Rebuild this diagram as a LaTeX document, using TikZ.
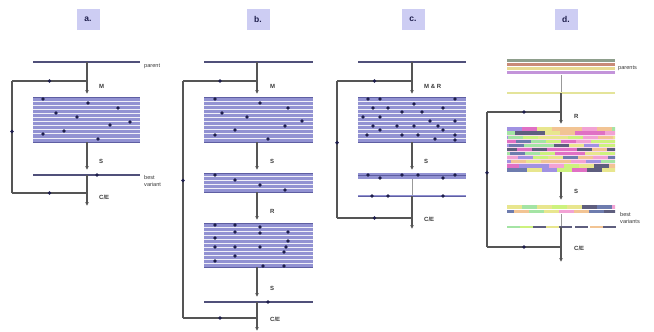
\documentclass[tikz,border=0pt]{standalone}
\usepackage{fontspec}
\setmainfont{Liberation Sans}
\usetikzlibrary{arrows.meta,decorations.markings}
\definecolor{lav}{HTML}{9292D2}
\definecolor{lavdark}{HTML}{5E5EA2}
\definecolor{lavlbl}{HTML}{CDCDF3}
\definecolor{pline}{HTML}{50507A}
\definecolor{dotc}{HTML}{1E1E4C}
\definecolor{flow}{HTML}{555555}
\definecolor{txt}{HTML}{3A3A3A}
\definecolor{mos1}{HTML}{F2A2D4}
\definecolor{mos2}{HTML}{A4E4A4}
\definecolor{mos3}{HTML}{E8E68E}
\definecolor{mos4}{HTML}{A092E2}
\definecolor{mos5}{HTML}{6E7CAE}
\definecolor{mos6}{HTML}{F2C494}
\definecolor{mos7}{HTML}{CDF27E}
\definecolor{mos8}{HTML}{E070C4}
\definecolor{mos9}{HTML}{5E5E7E}
\definecolor{par1}{HTML}{8E9E8C}
\definecolor{par2}{HTML}{C98A78}
\definecolor{par3}{HTML}{E8DA92}
\definecolor{par4}{HTML}{C394DA}
\definecolor{yel}{HTML}{E4E49A}
\tikzset{
  x=1pt,y=-1pt,
  flowarrow/.style={draw=flow,line width=1.2pt,-{Latex[length=3.8pt,width=3.8pt]}},
  flowline/.style={draw=flow,line width=1.2pt},
  thinlink/.style={draw=flow!60,line width=0.8pt},
  middot/.style={decoration={markings,mark=at position #1 with {\fill[dotc] (0,0) circle (1.9pt);}},postaction={decorate}},
  parentline/.style={draw=pline,line width=2.2pt},
  panellabel/.style={fill=lavlbl,text=dotc,font=\bfseries\fontsize{8.5}{9}\selectfont,minimum width=23pt,minimum height=21pt,inner sep=0pt},
  steplabel/.style={text=txt,font=\bfseries\fontsize{6}{7}\selectfont,anchor=west,inner sep=0pt},
  sidelabel/.style={text=txt,font=\fontsize{5.6}{6.4}\selectfont,anchor=west,inner sep=0pt,align=left},
  gdot/.style={circle,fill=dotc,inner sep=0pt,minimum size=3.8pt},
}
\newcommand\stripebox[5]{%
  \fill[lav] (#1,#2) rectangle (#3,#4);
  \foreach \i in {1,...,#5}{%
    \pgfmathsetmacro\yy{#2+\i*(#4-#2)/(#5+1)}
    \draw[white!85!lav,line width=0.7pt] (#1,\yy) -- (#3,\yy);
  }
  \draw[lavdark,line width=0.9pt] (#1,#2) -- (#3,#2) (#1,#4) -- (#3,#4);
}
\newcommand\gendots[1]{\foreach \p in {#1}{\node[gdot] at \p {};}}
\begin{document}
\begin{tikzpicture}
\useasboundingbox (0,0) rectangle (654,332);
\fill[white] (0,0) rectangle (654,332);

%% ---------- panel a ----------
\node[panellabel] (la) at (88,19) {a.};
\coordinate (aP1) at (33,62); \coordinate (aP2) at (140,62);
\draw[parentline] (aP1) -- (aP2);
\node[sidelabel] (aparent) at (144,66) {parent};
\coordinate (aTop) at (87,62); \coordinate (aM) at (87,94);
\coordinate (aJ) at (87,81); \coordinate (aL1) at (12,81); \coordinate (aL2) at (12,193); \coordinate (aJb) at (87,193);
\draw[flowline,middot=0.5] (aJb) -- (aL2);
\draw[flowline,middot=0.55] (aL2) -- (aL1);
\draw[flowline,middot=0.5] (aL1) -- (aJ);
\draw[flowarrow] (aTop) -- (aM);
\node[steplabel] (aml) at (99,86) {M};
\stripebox{33}{97}{140}{142}{10}
\gendots{(43,99),(88,103),(118,108),(56,113),(77,117),(130,122),(110,125),(64,131),(43,134),(98,139)}
\coordinate (aB) at (87,142); \coordinate (aS) at (87,170);
\draw[flowarrow] (aB) -- (aS);
\node[steplabel] (asl) at (99,161) {S};
\coordinate (aV1) at (33,175); \coordinate (aV2) at (140,175);
\draw[parentline] (aV1) -- (aV2);
\node[gdot] at (97,175) {};
\node[sidelabel] (abest) at (144,181) {best\\variant};
\coordinate (aV) at (87,175); \coordinate (aCE) at (87,206);
\draw[flowarrow] (aV) -- (aCE);
\node[steplabel] (acel) at (99,197) {C/E};

%% ---------- panel b ----------
\node[panellabel] (lb) at (258,19) {b.};
\coordinate (bP1) at (204,62); \coordinate (bP2) at (313,62);
\draw[parentline] (bP1) -- (bP2);
\coordinate (bTop) at (257,62); \coordinate (bM) at (257,94);
\coordinate (bJ) at (257,81); \coordinate (bL1) at (183,81); \coordinate (bL2) at (183,318); \coordinate (bJb) at (257,318);
\draw[flowline,middot=0.5] (bJb) -- (bL2);
\draw[flowline,middot=0.58] (bL2) -- (bL1);
\draw[flowline,middot=0.5] (bL1) -- (bJ);
\draw[flowarrow] (bTop) -- (bM);
\node[steplabel] (bml) at (270,86) {M};
\stripebox{204}{97}{313}{142}{10}
\gendots{(215,99),(260,103),(288,108),(222,113),(247,117),(302,121),(285,126),(235,130),(215,135),(268,139)}
\coordinate (bB1) at (257,142); \coordinate (bS1) at (257,170);
\draw[flowarrow] (bB1) -- (bS1);
\node[steplabel] (bsl1) at (270,161) {S};
\stripebox{204}{173}{313}{192}{4}
\gendots{(215,175),(235,180),(260,185),(285,190)}
\coordinate (bB2) at (257,192); \coordinate (bR) at (257,220);
\draw[flowarrow] (bB2) -- (bR);
\node[steplabel] (brl) at (270,211) {R};
\stripebox{204}{223}{313}{267}{10}
\gendots{(215,225),(235,225),(215,238),(215,247),(215,261),(235,232),(235,247),(235,256),(260,227),(260,233),(260,247),(288,232),(288,241),(286,247),(284,252),(263,266),(284,266)}
\coordinate (bB3) at (257,267); \coordinate (bS2) at (257,297);
\draw[flowarrow] (bB3) -- (bS2);
\node[steplabel] (bsl2) at (270,288) {S};
\coordinate (bV1) at (204,302); \coordinate (bV2) at (313,302);
\draw[parentline] (bV1) -- (bV2);
\node[gdot] at (268,302) {};
\coordinate (bV) at (257,302); \coordinate (bCE) at (257,331);
\draw[flowarrow] (bV) -- (bCE);
\node[steplabel] (bcel) at (270,319) {C/E};

%% ---------- panel c ----------
\node[panellabel] (lc) at (413,19) {c.};
\coordinate (cP1) at (358,62); \coordinate (cP2) at (466,62);
\draw[parentline] (cP1) -- (cP2);
\coordinate (cTop) at (412,62); \coordinate (cM) at (412,94);
\coordinate (cJ) at (412,81); \coordinate (cL1) at (337,81); \coordinate (cL2) at (337,218); \coordinate (cJb) at (412,218);
\draw[flowline,middot=0.5] (cJb) -- (cL2);
\draw[flowline,middot=0.55] (cL2) -- (cL1);
\draw[flowline,middot=0.5] (cL1) -- (cJ);
\draw[flowarrow] (cTop) -- (cM);
\node[steplabel] (cml) at (424,86) {M \& R};
\stripebox{358}{97}{466}{142}{10}
\gendots{(368,99),(380,99),(455,99),(373,108),(388,108),(402,112),(414,104),(422,112),(443,108),(363,117),(380,117),(455,121),(373,126),(397,126),(414,126),(430,121),(438,126),(367,135),(380,130),(402,135),(418,135),(435,139),(443,130),(455,135),(455,140)}
\coordinate (cB) at (412,142); \coordinate (cS) at (412,170);
\draw[flowarrow] (cB) -- (cS);
\node[steplabel] (csl) at (424,161) {S};
\fill[lav] (358,172.5) rectangle (466,178.5);
\draw[lavdark,line width=0.8pt] (358,175.5) -- (466,175.5);
\gendots{(368,175),(380,178),(402,175),(418,175),(443,178),(455,175)}
\coordinate (cV1) at (412,178.5); \coordinate (cV2) at (412,196);
\draw[thinlink] (cV1) -- (cV2);
\draw[lav,line width=2.4pt] (358,196) -- (466,196);
\draw[lavdark,line width=0.7pt] (358,196) -- (466,196);
\gendots{(372,196),(388,196),(443,196)}
\coordinate (cCE) at (412,229);
\draw[flowarrow] (cV2) -- (cCE);
\node[steplabel] (ccel) at (424,219) {C/E};

%% ---------- panel d ----------
\node[panellabel] (ld) at (566,19) {d.};
\draw[par1,line width=3pt] (507,60) -- (615,60);
\draw[par2,line width=3pt] (507,64) -- (615,64);
\draw[par3,line width=3pt] (507,68) -- (615,68);
\draw[par4,line width=3pt] (507,72) -- (615,72);
\node[sidelabel] (dparent) at (618,68) {parents};
\coordinate (dT1) at (561,75); \coordinate (dT2) at (561,92);
\draw[thinlink] (dT1) -- (dT2);
\draw[yel,line width=2pt] (507,93) -- (615,93);
\coordinate (dTop) at (561,93); \coordinate (dR) at (561,124);
\coordinate (dJ) at (561,112); \coordinate (dL1) at (487,112); \coordinate (dL2) at (487,247); \coordinate (dJb) at (561,247);
\draw[flowline,middot=0.5] (dJb) -- (dL2);
\draw[flowline,middot=0.55] (dL2) -- (dL1);
\draw[flowline,middot=0.5] (dL1) -- (dJ);
\draw[flowarrow] (dTop) -- (dR);
\node[steplabel] (drl) at (574,116) {R};
\pgfmathsetseed{17}
\begin{scope}
\clip (507,127) rectangle (615,172);
\fill[mos1!40] (507,127) rectangle (615,172);
\foreach \r in {0,...,10}{
  \pgfmathsetmacro\yy{129+\r*4.1}
  \pgfmathsetmacro\off{mod(\r*7,15)}
  \foreach \s in {0,...,8}{
    \pgfmathrandominteger{\c}{1}{9}
    \pgfmathsetmacro\xa{507-\off+\s*15}
    \pgfmathsetmacro\xb{\xa+15}
    \draw[line width=3.3pt,color=mos\c] (\xa,\yy) -- (\xb,\yy);
  }
}
\end{scope}
\coordinate (dB) at (561,172); \coordinate (dS) at (561,200);
\draw[flowarrow] (dB) -- (dS);
\node[steplabel] (dsl) at (574,191) {S};
\begin{scope}
\clip (507,205) rectangle (615,214);
\foreach \r in {0,1}{
  \pgfmathsetmacro\yy{207+\r*4.5}
  \pgfmathsetmacro\off{mod(\r*8,15)}
  \foreach \s in {0,...,8}{
    \pgfmathrandominteger{\c}{1}{9}
    \pgfmathsetmacro\xa{507-\off+\s*15}
    \pgfmathsetmacro\xb{\xa+15}
    \draw[line width=3.4pt,color=mos\c] (\xa,\yy) -- (\xb,\yy);
  }
}
\end{scope}
\coordinate (dV1) at (561,214); \coordinate (dV2) at (561,227);
\draw[thinlink] (dV1) -- (dV2);
\foreach \xa/\c in {507/2,520/7,533/9,546/3,559/9,575/9,590/6,603/9}{
  \draw[line width=1.8pt,color=mos\c] (\xa,227) -- ++(13,0);
}
\node[sidelabel] (dbest) at (620,218) {best\\variants};
\coordinate (dCE) at (561,262);
\draw[flowarrow] (dV2) -- (dCE);
\node[steplabel] (dcel) at (574,248) {C/E};
\end{tikzpicture}
\end{document}
